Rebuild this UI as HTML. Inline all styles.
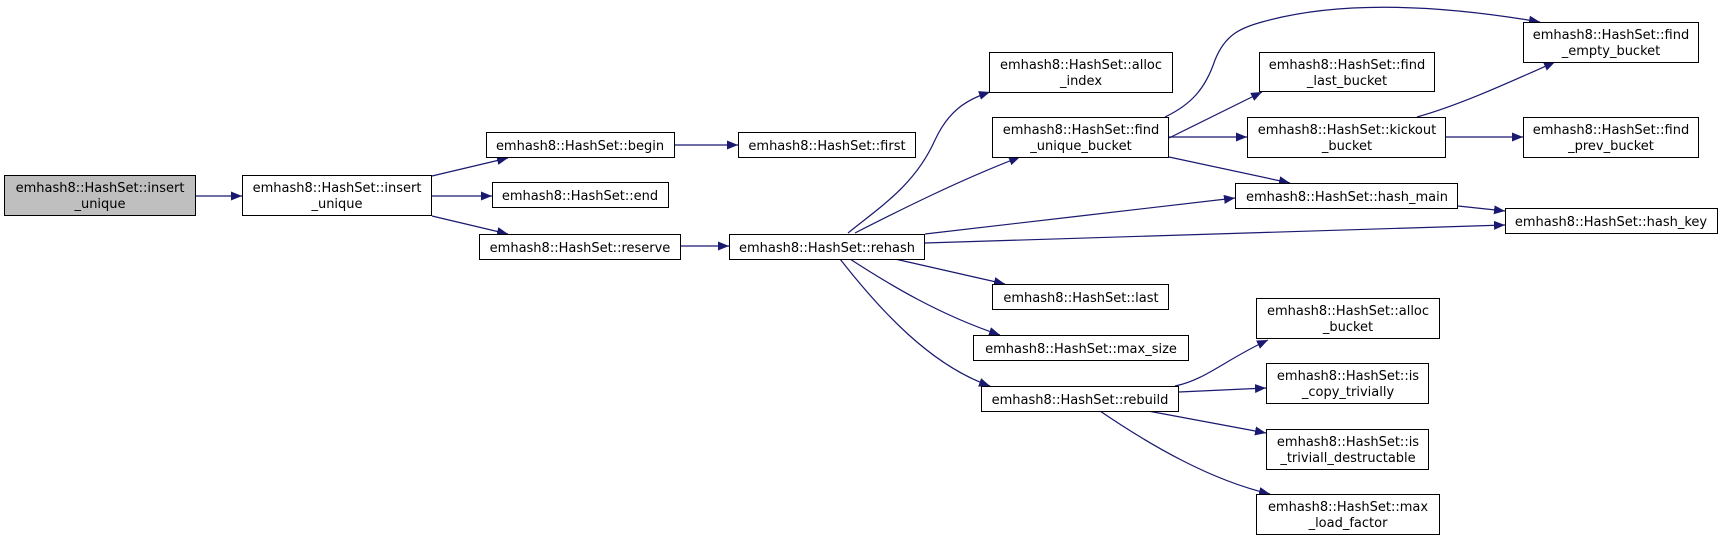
<!DOCTYPE html>
<html><head><meta charset="utf-8"><style>
html,body{margin:0;padding:0;background:#fff;}
svg{display:block;}
text{font-family:"DejaVu Sans","Liberation Sans",sans-serif;font-size:13px;fill:#000;}
</style></head><body>
<svg width="1725" height="540" viewBox="0 0 1725 540" xmlns="http://www.w3.org/2000/svg">
<defs>
<marker id="a" viewBox="0 0 11 9" refX="11" refY="4.5" markerWidth="11" markerHeight="9" markerUnits="userSpaceOnUse" orient="auto">
<path d="M0,0 L11,4.5 L0,9 z" fill="#191970"/>
</marker>
</defs>
<g fill="none" stroke="#191970" stroke-width="1.2" marker-end="url(#a)">
<path d="M196,196 L242,196"/>
<path d="M432,176 L508,158"/>
<path d="M432,196 L492,196"/>
<path d="M432,216 L508,234"/>
<path d="M675,145 L738,145"/>
<path d="M681,246 L729,246"/>
<path d="M848,233 C880,207 915,185 935,140 C948,112 965,100 990,92"/>
<path d="M855,233 C900,210 960,180 1020,157"/>
<path d="M925,234 C1020,222 1140,210 1235,198"/>
<path d="M925,243 C1150,236 1350,230 1505,225"/>
<path d="M895,259 L1005,284"/>
<path d="M850,259 C890,285 940,315 1000,335"/>
<path d="M840,259 C880,310 930,365 990,386"/>
<path d="M1165,117 C1190,105 1205,90 1215,60 C1225,35 1240,28 1262,22 C1340,0 1440,5 1540,22"/>
<path d="M1169,138 L1262,92"/>
<path d="M1169,137 L1247,137"/>
<path d="M1169,157 L1290,183"/>
<path d="M1417,117 C1460,105 1510,82 1555,62"/>
<path d="M1446,137 L1523,137"/>
<path d="M1458,206 L1505,211"/>
<path d="M1175,386 C1205,380 1225,360 1268,340"/>
<path d="M1179,392 L1266,388"/>
<path d="M1148,411 L1266,433"/>
<path d="M1100,411 C1150,445 1210,480 1270,494"/>
</g>
<g stroke="#000" stroke-width="1">
<rect x="4.5" y="175.5" width="191" height="40" fill="#bfbfbf"/>
<rect x="242.5" y="175.5" width="189" height="40" fill="#fff"/>
<rect x="486.5" y="132.5" width="188" height="25" fill="#fff"/>
<rect x="492.5" y="182.5" width="176" height="25" fill="#fff"/>
<rect x="479.5" y="234.5" width="201" height="25" fill="#fff"/>
<rect x="738.5" y="132.5" width="177" height="25" fill="#fff"/>
<rect x="729.5" y="234.5" width="195" height="25" fill="#fff"/>
<rect x="989.5" y="52.5" width="183" height="40" fill="#fff"/>
<rect x="992.5" y="117.5" width="176" height="40" fill="#fff"/>
<rect x="1259.5" y="52.5" width="175" height="39" fill="#fff"/>
<rect x="1247.5" y="117.5" width="198" height="40" fill="#fff"/>
<rect x="1523.5" y="22.5" width="175" height="40" fill="#fff"/>
<rect x="1523.5" y="117.5" width="175" height="40" fill="#fff"/>
<rect x="1235.5" y="183.5" width="222" height="25" fill="#fff"/>
<rect x="1505.5" y="208.5" width="212" height="25" fill="#fff"/>
<rect x="992.5" y="284.5" width="176" height="25" fill="#fff"/>
<rect x="973.5" y="335.5" width="215" height="25" fill="#fff"/>
<rect x="981.5" y="386.5" width="197" height="25" fill="#fff"/>
<rect x="1256.5" y="298.5" width="183" height="40" fill="#fff"/>
<rect x="1266.5" y="363.5" width="162" height="40" fill="#fff"/>
<rect x="1266.5" y="429.5" width="162" height="40" fill="#fff"/>
<rect x="1256.5" y="494.5" width="183" height="40" fill="#fff"/>
</g>
<g text-anchor="middle">
<text x="100" y="192">emhash8::HashSet::insert</text><text x="100" y="208">_unique</text>
<text x="337" y="192">emhash8::HashSet::insert</text><text x="337" y="208">_unique</text>
<text x="580" y="150">emhash8::HashSet::begin</text>
<text x="580" y="200">emhash8::HashSet::end</text>
<text x="580" y="252">emhash8::HashSet::reserve</text>
<text x="827" y="150">emhash8::HashSet::first</text>
<text x="827" y="252">emhash8::HashSet::rehash</text>
<text x="1081" y="69">emhash8::HashSet::alloc</text><text x="1081" y="85">_index</text>
<text x="1081" y="134">emhash8::HashSet::find</text><text x="1081" y="150">_unique_bucket</text>
<text x="1347" y="69">emhash8::HashSet::find</text><text x="1347" y="85">_last_bucket</text>
<text x="1347" y="134">emhash8::HashSet::kickout</text><text x="1347" y="150">_bucket</text>
<text x="1611" y="39">emhash8::HashSet::find</text><text x="1611" y="55">_empty_bucket</text>
<text x="1611" y="134">emhash8::HashSet::find</text><text x="1611" y="150">_prev_bucket</text>
<text x="1347" y="201">emhash8::HashSet::hash_main</text>
<text x="1611" y="226">emhash8::HashSet::hash_key</text>
<text x="1081" y="302">emhash8::HashSet::last</text>
<text x="1081" y="353">emhash8::HashSet::max_size</text>
<text x="1080" y="404">emhash8::HashSet::rebuild</text>
<text x="1348" y="315">emhash8::HashSet::alloc</text><text x="1348" y="331">_bucket</text>
<text x="1348" y="380">emhash8::HashSet::is</text><text x="1348" y="396">_copy_trivially</text>
<text x="1348" y="446">emhash8::HashSet::is</text><text x="1348" y="462">_triviall_destructable</text>
<text x="1348" y="511">emhash8::HashSet::max</text><text x="1348" y="527">_load_factor</text>
</g>
</svg>
</body></html>
